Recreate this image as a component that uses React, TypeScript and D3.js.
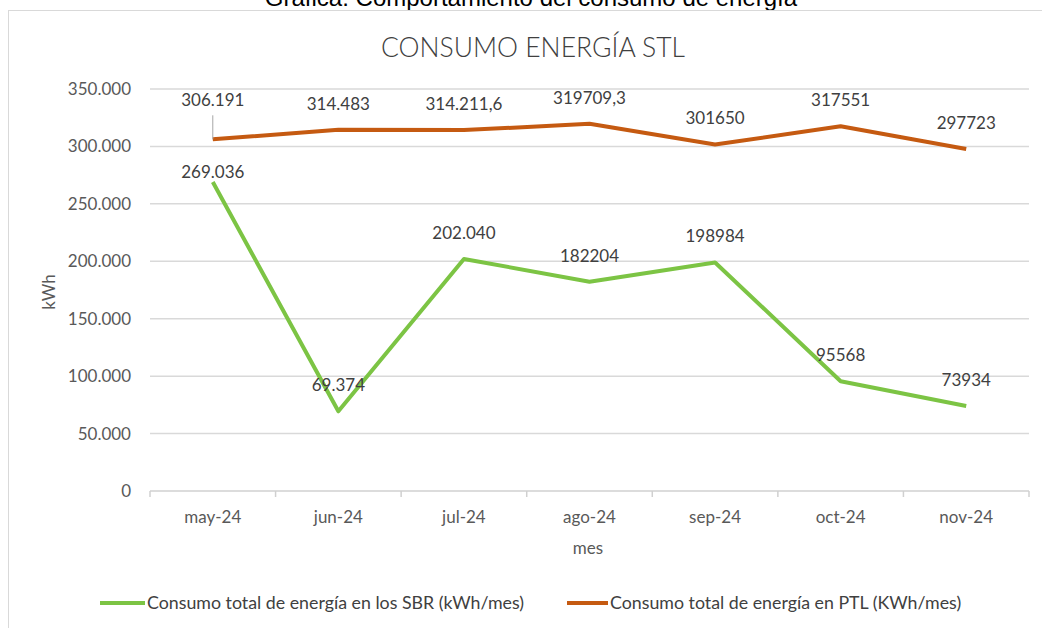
import React from 'react';
import * as d3 from 'd3';

const months = ['may-24', 'jun-24', 'jul-24', 'ago-24', 'sep-24', 'oct-24', 'nov-24'];
const sbrValues = [269036, 69374, 202040, 182204, 198984, 95568, 73934];
const ptlValues = [306191, 314483, 314211.6, 319709.3, 301650, 317551, 297723];
const sbrLabels = ['269.036', '69.374', '202.040', '182204', '198984', '95568', '73934'];
const ptlLabels = ['306.191', '314.483', '314.211,6', '319709,3', '301650', '317551', '297723'];
const yTicks = [0, 50000, 100000, 150000, 200000, 250000, 300000, 350000];

const W = 1042;
const H = 628;
const GREEN = '#7cc444';
const ORANGE = '#c55a11';
const FONT = 'Lato, "Open Sans", sans-serif';

const esFormat = d3.formatLocale({
  decimal: ',',
  thousands: '.',
  grouping: [3],
  currency: ['', ''],
}).format(',d');

const App: React.FC = () => {
  const x = d3.scaleBand<string>().domain(months).range([150, 1029]).padding(0);
  const y = d3.scaleLinear().domain([0, 350000]).range([491, 89]);
  const cx = (m: string) => (x(m) as number) + x.bandwidth() / 2;

  const line = d3
    .line<number>()
    .x((_, i) => cx(months[i]))
    .y((d) => y(d));

  // data label vertical offset above the point (first points are moved by hand in the original)
  const sbrOffset = (i: number) => (i === 0 ? 10 : 26);
  const ptlOffset = (i: number) => (i === 0 ? 39 : 26);

  return (
    <svg
      width={W}
      height={H}
      style={{ position: 'absolute', left: 0, top: 0, background: '#fff' }}
      fontFamily={FONT}
    >
      {/* caption above the chart, cut off by the page top */}
      <text
        x={531}
        y={6}
        textAnchor="middle"
        fontFamily='"Liberation Sans", Arial, sans-serif'
        fontSize={24}
        fill="#000"
      >
        Gráfica: Comportamiento del consumo de energía
      </text>

      {/* chart area border */}
      <rect x={8.5} y={10.5} width={1100} height={700} fill="#fff" stroke="#d9d9d9" strokeWidth={1} />

      <text x={533} y={57} textAnchor="middle" fontSize={26.5} fontWeight={300} fill="#404040">
        CONSUMO ENERGÍA STL
      </text>

      {/* gridlines */}
      {yTicks.slice(1).map((t) => (
        <line key={t} x1={150} x2={1029} y1={y(t)} y2={y(t)} stroke="#d9d9d9" strokeWidth={1.5} />
      ))}

      {/* y tick labels */}
      {yTicks.map((t) => (
        <text
          key={t}
          x={131}
          y={y(t)}
          dy="0.35em"
          textAnchor="end"
          fontSize={17}
          fill="#595959"
        >
          {esFormat(t)}
        </text>
      ))}

      {/* x axis */}
      <line x1={150} x2={1029} y1={491} y2={491} stroke="#d0d0d0" strokeWidth={1.5} />
      {months.concat(['end']).map((m, i) => {
        const xx = i < months.length ? (x(m) as number) : 1029;
        return <line key={m} x1={xx} x2={xx} y1={491} y2={497} stroke="#d0d0d0" strokeWidth={1.5} />;
      })}
      {months.map((m) => (
        <text key={m} x={cx(m)} y={517} dy="0.35em" textAnchor="middle" fontSize={17} fill="#595959">
          {m}
        </text>
      ))}

      <text x={588} y={548} dy="0.35em" textAnchor="middle" fontSize={17} fill="#595959">
        mes
      </text>
      <text
        transform="translate(49,292) rotate(-90)"
        dy="0.35em"
        textAnchor="middle"
        fontSize={17}
        fill="#595959"
      >
        kWh
      </text>

      {/* series */}
      <path d={line(ptlValues) || ''} fill="none" stroke={ORANGE} strokeWidth={4} strokeLinejoin="round" />
      <path d={line(sbrValues) || ''} fill="none" stroke={GREEN} strokeWidth={4} strokeLinejoin="round" />

      {/* leader line for the moved first PTL label */}
      <line
        x1={cx(months[0])}
        x2={cx(months[0])}
        y1={y(ptlValues[0]) - 24}
        y2={y(ptlValues[0])}
        stroke="#a6a6a6"
        strokeWidth={1}
      />

      {ptlValues.map((v, i) => (
        <text
          key={'p' + i}
          x={cx(months[i])}
          y={y(v) - ptlOffset(i)}
          dy="0.35em"
          textAnchor="middle"
          fontSize={17}
          fill="#404040"
        >
          {ptlLabels[i]}
        </text>
      ))}
      {sbrValues.map((v, i) => (
        <text
          key={'s' + i}
          x={cx(months[i])}
          y={y(v) - sbrOffset(i)}
          dy="0.35em"
          textAnchor="middle"
          fontSize={17}
          fill="#404040"
        >
          {sbrLabels[i]}
        </text>
      ))}

      {/* legend */}
      <line x1={100} x2={145} y1={603} y2={603} stroke={GREEN} strokeWidth={4} />
      <text x={147} y={603} dy="0.35em" fontSize={17.8} fill="#404040">
        Consumo total de energía en los SBR (kWh/mes)
      </text>
      <line x1={567} x2={608} y1={603} y2={603} stroke={ORANGE} strokeWidth={4} />
      <text x={610} y={603} dy="0.35em" fontSize={17.8} fill="#404040">
        Consumo total de energía en PTL (KWh/mes)
      </text>
    </svg>
  );
};

export default App;
